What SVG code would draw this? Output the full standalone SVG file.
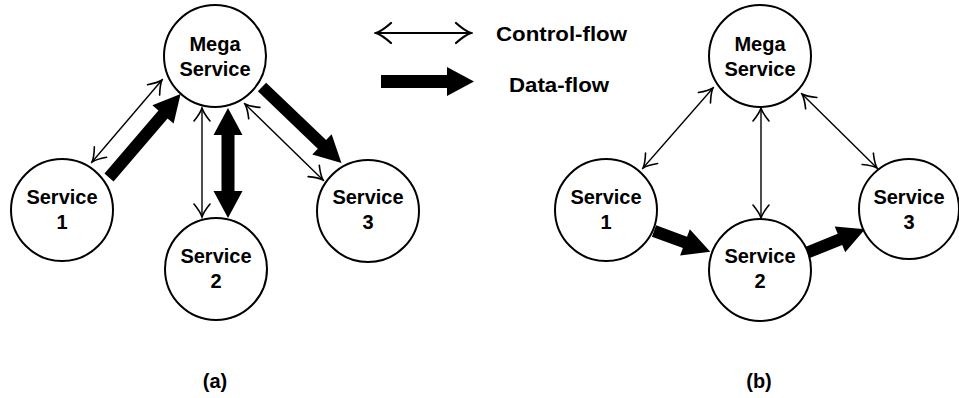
<svg xmlns="http://www.w3.org/2000/svg" width="959" height="398" viewBox="0 0 959 398">
<style>
.node circle{fill:#fff;stroke:#000;stroke-width:2}
text{font-family:"Liberation Sans",Arial,sans-serif;font-weight:bold;font-size:20px;fill:#000}
.nt{text-anchor:middle}
.ctl{stroke:#000;stroke-width:1.4;fill:none;marker-start:url(#oa);marker-end:url(#oa)}
.data{fill:#000;stroke:none}
</style>
<defs>
<marker id="oa" viewBox="-16 -11 18 22" refX="0" refY="0" markerWidth="18" markerHeight="22" markerUnits="userSpaceOnUse" orient="auto-start-reverse">
<path d="M -13 -8 Q -5 -1.5 0 0 Q -5 1.5 -13 8" fill="none" stroke="#000" stroke-width="1.6" stroke-linecap="round"/>
</marker>
<marker id="ob" viewBox="-18 -12 20 24" refX="0" refY="0" markerWidth="20" markerHeight="24" markerUnits="userSpaceOnUse" orient="auto-start-reverse">
<path d="M -15 -10 Q -6 -2 0 0 Q -6 2 -15 10" fill="none" stroke="#000" stroke-width="2.2" stroke-linecap="round"/>
</marker>
</defs>
<g id="connectors">
<!-- legend -->
<line x1="376" y1="33" x2="471" y2="33" stroke="#000" stroke-width="2" marker-start="url(#ob)" marker-end="url(#ob)"/>
<path class="data" d="M 381 75 L 447 75 L 447 67 L 474 81.5 L 447 96 L 447 88 L 381 88 Z"/>
<!-- (a) control -->
<line class="ctl" x1="92" y1="162" x2="162" y2="80"/>
<line class="ctl" x1="202" y1="108" x2="202" y2="217"/>
<line class="ctl" x1="245" y1="104" x2="323" y2="180"/>
<!-- (a) data -->
<path class="data" transform="translate(109 177.5) rotate(-49.4)" d="M 0 -6 L 83 -6 L 83 -14 L 110 0 L 83 14 L 83 6 L 0 6 Z"/>
<path class="data" transform="translate(228 108) rotate(90)" d="M 0 0 L 27 -14.5 L 27 -6.5 L 83 -6.5 L 83 -14.5 L 110 0 L 83 14.5 L 83 6.5 L 27 6.5 L 27 14.5 Z"/>
<path class="data" transform="translate(262 87) rotate(43.75)" d="M 0 -6 L 83 -6 L 83 -14 L 110 0 L 83 14 L 83 6 L 0 6 Z"/>
<!-- (b) control -->
<line class="ctl" x1="643" y1="168" x2="713" y2="88"/>
<line class="ctl" x1="761" y1="108" x2="761" y2="218"/>
<line class="ctl" x1="802" y1="94" x2="877" y2="168"/>
<!-- (b) data -->
<path class="data" transform="translate(654 231) rotate(20.3)" d="M 0 -6 L 33 -6 L 33 -14 L 60 0 L 33 14 L 33 6 L 0 6 Z"/>
<path class="data" transform="translate(807.5 252.5) rotate(-22)" d="M 0 -6 L 35 -6 L 35 -14 L 62 0 L 35 14 L 35 6 L 0 6 Z"/>
</g>
<g id="mega-a" class="node"><circle cx="215" cy="56" r="51"/><text class="nt" x="215" y="51">Mega</text><text class="nt" x="215" y="76">Service</text></g>
<g id="s1-a" class="node"><circle cx="62" cy="210" r="51"/><text class="nt" x="62" y="204">Service</text><text class="nt" x="62" y="229">1</text></g>
<g id="s2-a" class="node"><circle cx="216" cy="269" r="51"/><text class="nt" x="216" y="263">Service</text><text class="nt" x="216" y="288">2</text></g>
<g id="s3-a" class="node"><circle cx="368" cy="211" r="51"/><text class="nt" x="368" y="204">Service</text><text class="nt" x="368" y="229">3</text></g>
<g id="mega-b" class="node"><circle cx="760" cy="56" r="51"/><text class="nt" x="760" y="51">Mega</text><text class="nt" x="760" y="76">Service</text></g>
<g id="s1-b" class="node"><circle cx="606" cy="210" r="51"/><text class="nt" x="606" y="204">Service</text><text class="nt" x="606" y="229">1</text></g>
<g id="s2-b" class="node"><circle cx="760" cy="270" r="51"/><text class="nt" x="760" y="263">Service</text><text class="nt" x="760" y="288">2</text></g>
<g id="s3-b" class="node"><circle cx="909" cy="209" r="50"/><text class="nt" x="909" y="204">Service</text><text class="nt" x="909" y="229">3</text></g>
<g id="legend">
<text x="496" y="40.5" textLength="131" lengthAdjust="spacingAndGlyphs">Control-flow</text>
<text x="509" y="91.5" textLength="100" lengthAdjust="spacingAndGlyphs">Data-flow</text>
</g>
<g id="captions">
<text class="nt" x="215" y="388">(a)</text>
<text class="nt" x="759" y="388">(b)</text>
</g>
</svg>
